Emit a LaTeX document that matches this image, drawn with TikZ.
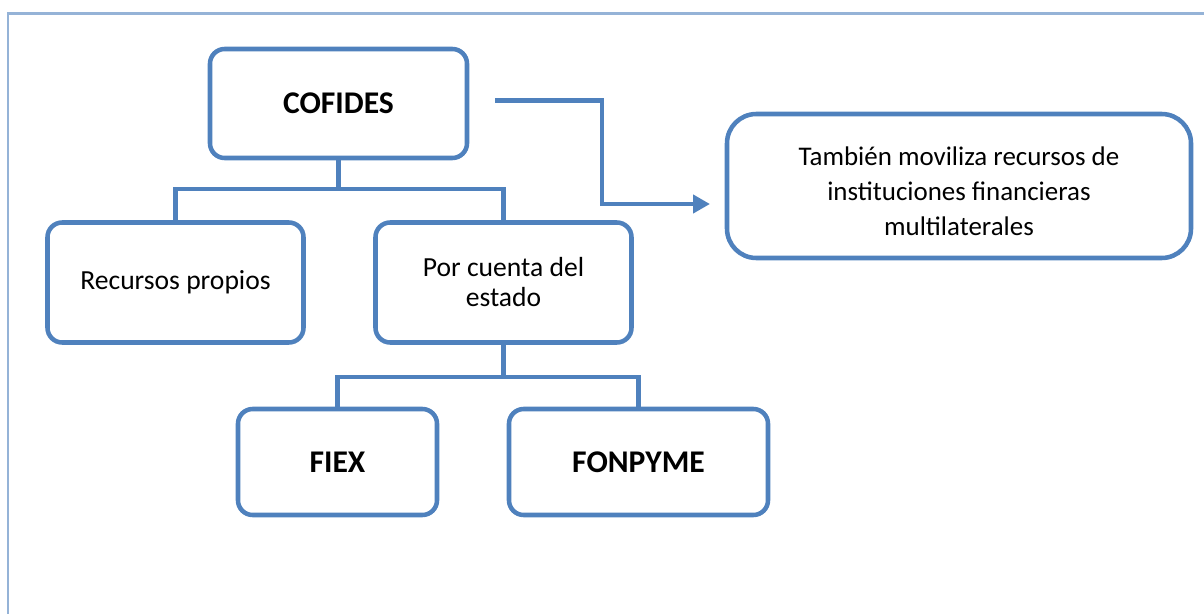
\documentclass[tikz,border=0pt]{standalone}
\usepackage{fontspec}
\setmainfont{Carlito}
\usetikzlibrary{arrows.meta}
\definecolor{boxblue}{HTML}{4F81BD}
\definecolor{framblue}{HTML}{95B3D7}
\begin{document}
\begin{tikzpicture}[x=0.75pt,y=-0.75pt,
  box/.style={draw=boxblue,line width=3.4pt,fill=white,rounded corners=11pt,align=center,inner sep=0pt},
  conn/.style={draw=boxblue,line width=3.6pt},
  big/.style={font=\fontsize{23.7}{26}\selectfont\bfseries},
  mid/.style={font=\fontsize{20.7}{22.5}\selectfont},
  sml/.style={font=\fontsize{20.2}{26.5}\selectfont}]
\useasboundingbox (0,0) rectangle (1204,614);
\draw[framblue,line width=1.7pt] (8,620) -- (8,13.5) -- (1210,13.5);
\node[box,big,minimum width=192.75pt,minimum height=81.75pt] (cof) at (338.5,103.5) {COFIDES};
\node[box,mid,minimum width=192pt,minimum height=90pt] (rec) at (175.5,282.5) {Recursos propios};
\node[box,mid,minimum width=192pt,minimum height=90pt] (est) at (503.5,282.5) {Por cuenta del\\estado};
\node[box,big,minimum width=149.25pt,minimum height=79.5pt] (fiex) at (337.5,462) {FIEX};
\node[box,big,minimum width=194.25pt,minimum height=79.5pt] (fon) at (638.5,462) {FONPYME};
\node[box,rounded corners=22pt,minimum width=348pt,minimum height=108pt] (tam) at (959,186) {};
\node[sml,align=center,inner sep=0pt] (tamtxt) at ([yshift=-4pt]tam.center) {También moviliza recursos de\\instituciones financieras\\multilaterales};
\coordinate (tb) at (0,189);
\coordinate (bb) at (0,377);
\draw[conn] (cof.south) -- (cof.south |- tb);
\draw[conn] (rec.north) -- (rec.north |- tb) -- (est.north |- tb) -- (est.north);
\draw[conn] (est.south) -- (est.south |- bb);
\draw[conn] (fiex.north) -- (fiex.north |- bb) -- (fon.north |- bb) -- (fon.north);
\coordinate (a0) at (495,100.5);
\coordinate (a1) at (710,204);
\draw[conn,-{Triangle[length=12.75pt,width=13.5pt]}] (a0) -- (602,100.5) -- (602,204) -- (a1);
\end{tikzpicture}
\end{document}
